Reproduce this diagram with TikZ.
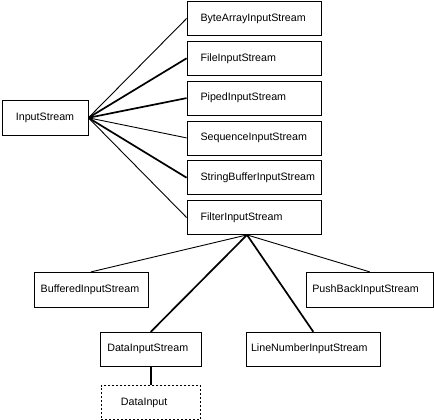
\documentclass[tikz,border=0pt]{standalone}
\usepackage{fontspec}
\setmainfont{Liberation Sans}
\usetikzlibrary{positioning}
\tikzset{
    cls/.style={draw=black,line width=0.8pt,rectangle,minimum height=34pt,align=left,
        font=\fontsize{10.7}{12}\selectfont},
    sub/.style={cls,text width=107pt,inner xsep=13.5pt},
    iface/.style={cls,dash pattern=on 2pt off 2pt},
    link/.style={draw=black,line width=0.9pt},
    heavylink/.style={draw=black,line width=1.7pt}
}
\begin{document}
\begin{tikzpicture}[x=1pt,y=-1pt]
    \useasboundingbox (0,0) rectangle (434,420);
    \node[cls,minimum width=86pt,minimum height=35pt,align=center] (is) at (45,117.8) {InputStream};
    \node[sub] (bais) at (254,18.5) {ByteArrayInputStream};
    \node[sub] (fis) at (254,58.3) {FileInputStream};
    \node[sub] (pis) at (254,98.1) {PipedInputStream};
    \node[sub] (sis) at (254,137.9) {SequenceInputStream};
    \node[sub] (sbis) at (254,177.7) {StringBufferInputStream};
    \node[sub] (fltis) at (254,217.5) {FilterInputStream};
    \node[cls,minimum height=35pt,text width=100.6pt,inner xsep=6.7pt] (bis) at (91,289.8) {BufferedInputStream};
    \node[cls,minimum height=35pt,text width=115pt,inner xsep=6pt] (pbis) at (369.8,289.8) {PushBackInputStream};
    \node[cls,text width=87pt,inner xsep=7pt] (dis) at (150.8,349.2) {DataInputStream};
    \node[cls,text width=124.6pt,inner xsep=4.7pt] (lnis) at (313.3,349.2) {LineNumberInputStream};
    \node[iface,text width=59.7pt,inner xsep=20pt] (di) at (150.8,402.5) {DataInput};
    \coordinate (fork) at ([xshift=-7pt]fltis.south);
    \draw[link] (is.east) -- (bais.west);
    \draw[heavylink] (is.east) -- (fis.west);
    \draw[heavylink] (is.east) -- (pis.west);
    \draw[link] (is.east) -- (sis.west);
    \draw[heavylink] (is.east) -- (sbis.west);
    \draw[link] (is.east) -- (fltis.west);
    \draw[link] (fork) -- (bis.north);
    \draw[link] (fork) -- (pbis.north);
    \draw[heavylink] (fork) -- (dis.north);
    \draw[heavylink] (fork) -- (lnis.north);
    \draw[heavylink] (dis.south) -- (di.north);
\end{tikzpicture}
\end{document}
